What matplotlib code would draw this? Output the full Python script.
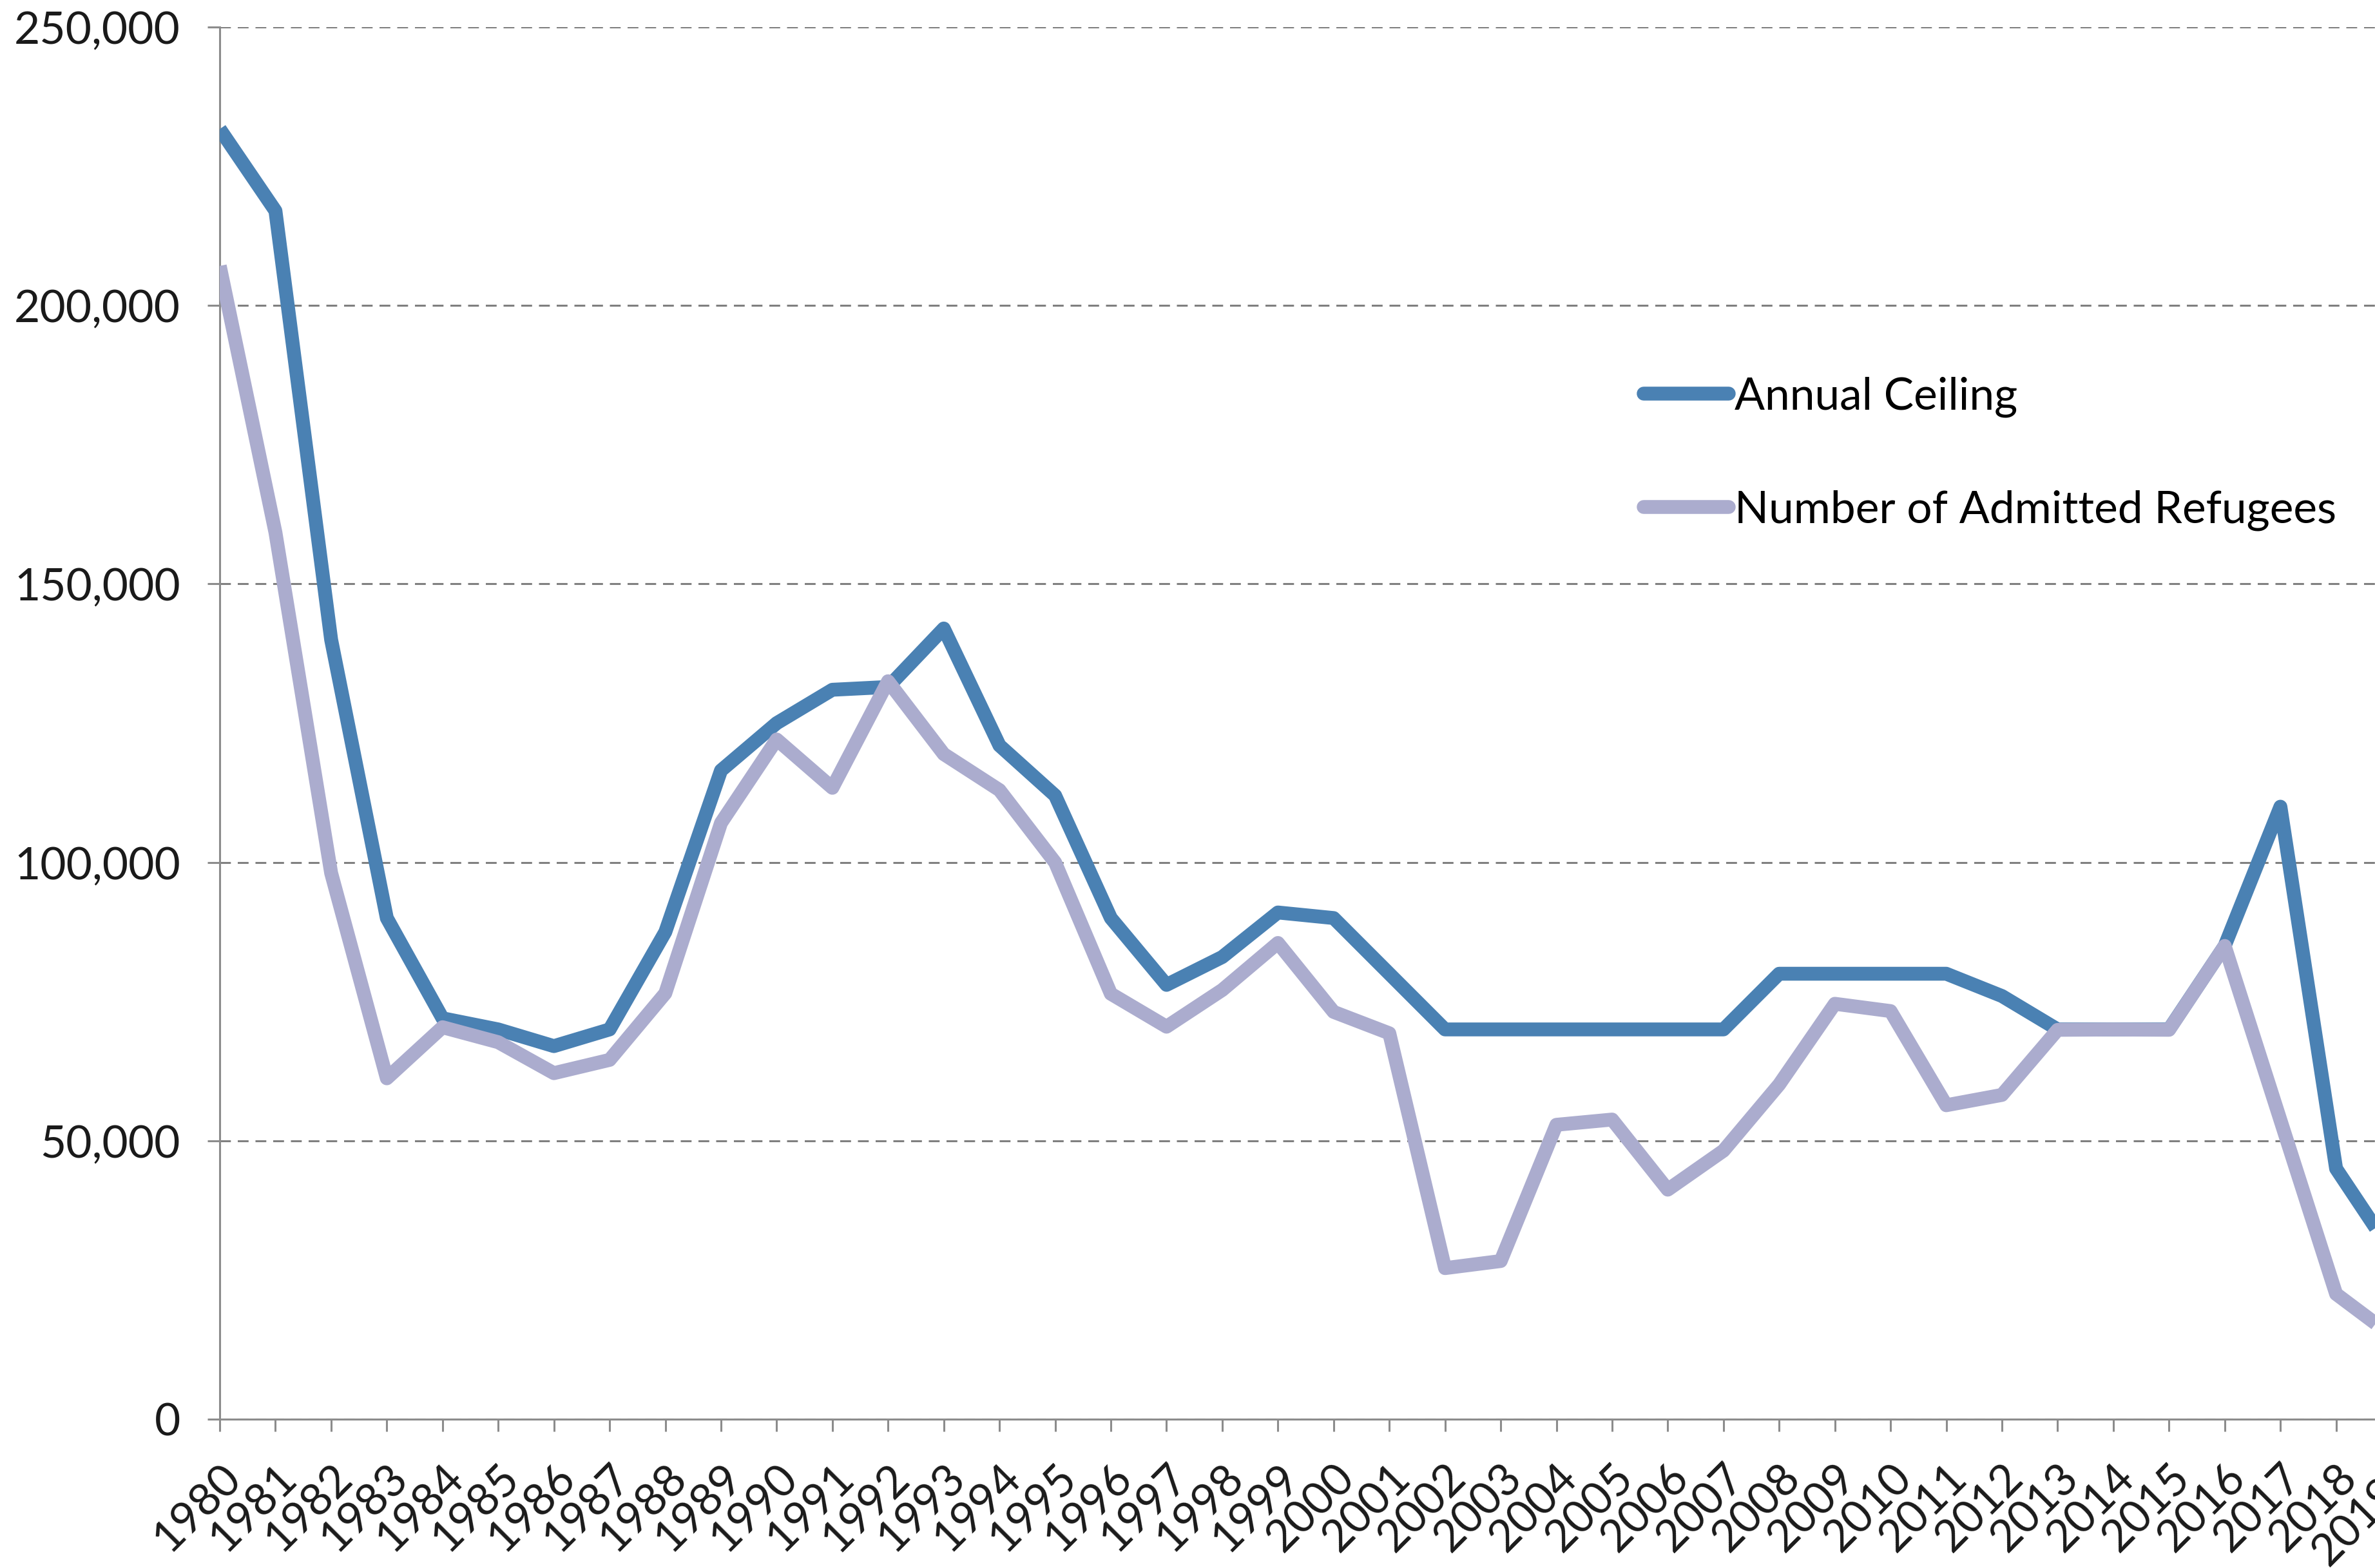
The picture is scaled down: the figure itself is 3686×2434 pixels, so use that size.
import matplotlib.pyplot as plt
from matplotlib.ticker import FuncFormatter

years = [str(y) for y in range(1980, 2019)] + ["2019*"]

annual_ceiling = [
  231700, 217000, 140000, 90000, 72000, 70000, 67000, 70000, 87500, 116500,
  125000, 131000, 131500, 142000, 121000, 112000, 90000, 78000, 83000, 91000,
  90000, 80000, 70000, 70000, 70000, 70000, 70000, 70000, 80000, 80000,
  80000, 80000, 76000, 70000, 70000, 70000, 85000, 110000, 45000, 30000,
]

admitted_refugees = [
  207116, 159252, 98096, 61218, 70393, 67704, 62146, 64528, 76483, 107070,
  122066, 113389, 132531, 119448, 112981, 99974, 76403, 70488, 77080, 85525,
  73147, 69304, 27131, 28403, 52873, 53813, 41223, 48218, 60107, 74602,
  73293, 56384, 58238, 69926, 69987, 69933, 84994, 53716, 22491, 15000,
]

series_names = ["Annual Ceiling", "Number of Admitted Refugees"]

plt.rcParams['font.family'] = ['Lato', 'DejaVu Sans']

fig = plt.figure(figsize=(36.87, 24.34), dpi=100)
# the original chart is cropped on the right, so the axes run past the figure edge
ax = fig.add_axes([0.0925, 0.0949, 0.9143, 0.8878])

x = list(range(len(years)))
ax.plot(x, annual_ceiling, color='#4A81B3', lw=15.5, solid_joinstyle='round',
        solid_capstyle='butt', label=series_names[0], zorder=3)
ax.plot(x, admitted_refugees, color='#ABACCE', lw=15.5, solid_joinstyle='round',
        solid_capstyle='butt', label=series_names[1], zorder=3)

ax.set_xlim(0, len(years) - 1)
ax.set_ylim(0, 250000)
ax.set_yticks(range(0, 250001, 50000))
ax.yaxis.set_major_formatter(FuncFormatter(lambda v, p: f"{int(v):,}"))
ax.set_xticks(x)
ax.set_xticklabels(years, rotation=45, ha='right', rotation_mode='anchor')

ax.grid(axis='y', color='#808080', lw=2.2, linestyle=(0, (5.5, 3.5)), zorder=0)
ax.set_axisbelow(True)

for side in ['top', 'right']:
  ax.spines[side].set_visible(False)
for side in ['left', 'bottom']:
  ax.spines[side].set_color('#8C8C8C')
  ax.spines[side].set_linewidth(2.2)

ax.tick_params(axis='y', length=14, width=2.2, color='#8C8C8C', pad=30,
               labelsize=50, labelcolor='#1a1a1a')
ax.tick_params(axis='x', length=14, width=2.2, color='#8C8C8C', pad=28,
               labelsize=50, labelcolor='#1a1a1a')

leg = ax.legend(loc='upper left', bbox_to_anchor=(0.692, 0.760),
                bbox_transform=fig.transFigure, frameon=False, fontsize=50,
                handlelength=1.9, handletextpad=0.12, labelspacing=1.62,
                borderpad=0, borderaxespad=0)
for line in leg.get_lines():
  line.set_solid_capstyle('round')

fig.savefig('out.png', dpi=100)
